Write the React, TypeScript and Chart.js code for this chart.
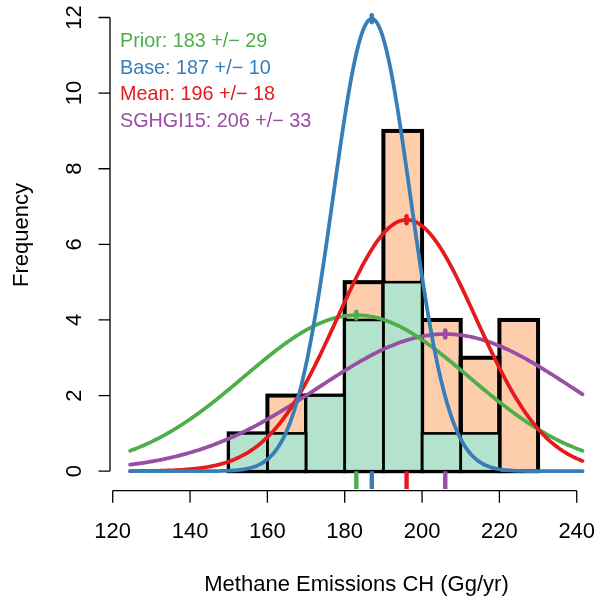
import React, { useEffect, useRef } from "react";
import { Chart, registerables } from "chart.js";

Chart.register(...registerables);

// ---- data ----
const binStarts = [150, 160, 170, 180, 190, 200, 210, 220];
const binWidth = 10;
const allCounts = [1, 2, 2, 5, 9, 4, 3, 4];
const subsetCounts = [1, 1, 2, 4, 5, 1, 1, 0];
const seriesNames = ["Prior", "Base", "Mean", "SGHGI15"];
const seriesMeans = [183, 187, 196, 206];
const seriesSds = [29, 10, 18, 33];
const seriesColors = ["#4DAF4A", "#377EB8", "#E41A1C", "#984EA3"];
const seriesDrawOrder = [4, 2, 3, 5]; // higher = drawn earlier
const nObs = 30;
const curveFrom = 124.5;
const curveTo = 241.5;
const xTicks = [120, 140, 160, 180, 200, 220, 240];
const yTicks = [0, 2, 4, 6, 8, 10, 12];
const xTitle = "Methane Emissions CH (Gg/yr)";
const yTitle = "Frequency";

const FONT = "'Liberation Sans', Arial, Helvetica, sans-serif";

function scaledDensity(x: number, mu: number, sd: number) {
  const z = (x - mu) / sd;
  return (nObs * binWidth * Math.exp(-0.5 * z * z)) / (sd * Math.sqrt(2 * Math.PI));
}

function curvePoints(mu: number, sd: number) {
  const pts: { x: number; y: number }[] = [];
  const n = 240;
  for (let i = 0; i <= n; i++) {
    const x = curveFrom + ((curveTo - curveFrom) * i) / n;
    pts.push({ x, y: scaledDensity(x, mu, sd) });
  }
  return pts;
}

const outlinePlugin = {
  id: "histOutline",
  afterDatasetDraw(chart: any, args: any) {
    const meta = args.meta;
    const ds = chart.data.datasets[args.index];
    if (meta.type !== "bar" || !ds.outlineWidth) return;
    const ctx = chart.ctx;
    ctx.save();
    ctx.strokeStyle = "#000";
    ctx.lineWidth = ds.outlineWidth;
    ctx.lineJoin = "miter";
    meta.data.forEach((el: any) => {
      const p = el.getProps(["x", "y", "base", "width"], true);
      if (Math.abs(p.base - p.y) < 0.5) return;
      ctx.strokeRect(p.x - p.width / 2, p.y, p.width, p.base - p.y);
    });
    ctx.restore();
  },
};

const axesPlugin = {
  id: "rAxes",
  afterDraw(chart: any) {
    const ctx = chart.ctx;
    const xs = chart.scales.x;
    const ys = chart.scales.y;
    const area = chart.chartArea;
    ctx.save();
    ctx.strokeStyle = "#000";
    ctx.fillStyle = "#000";
    ctx.lineWidth = 1.3;
    ctx.lineCap = "butt";

    // y axis
    const yx = area.left;
    ctx.beginPath();
    ctx.moveTo(yx, ys.getPixelForValue(yTicks[0]));
    ctx.lineTo(yx, ys.getPixelForValue(yTicks[yTicks.length - 1]));
    yTicks.forEach((v) => {
      const py = ys.getPixelForValue(v);
      ctx.moveTo(yx, py);
      ctx.lineTo(yx - 11.5, py);
    });
    ctx.stroke();
    ctx.font = `22px ${FONT}`;
    ctx.textAlign = "center";
    ctx.textBaseline = "alphabetic";
    yTicks.forEach((v) => {
      const py = ys.getPixelForValue(v);
      ctx.save();
      ctx.translate(81, py);
      ctx.rotate(-Math.PI / 2);
      ctx.fillText(String(v), 0, 0);
      ctx.restore();
    });

    // x axis
    const xy = area.bottom;
    ctx.beginPath();
    ctx.moveTo(xs.getPixelForValue(xTicks[0]), xy);
    ctx.lineTo(xs.getPixelForValue(xTicks[xTicks.length - 1]), xy);
    xTicks.forEach((v) => {
      const px = xs.getPixelForValue(v);
      ctx.moveTo(px, xy);
      ctx.lineTo(px, xy + 12);
    });
    ctx.stroke();
    xTicks.forEach((v) => {
      ctx.fillText(String(v), xs.getPixelForValue(v), 537.5);
    });

    // titles
    ctx.fillText(xTitle, 356.5, 591);
    ctx.save();
    ctx.translate(27.5, 235);
    ctx.rotate(-Math.PI / 2);
    ctx.fillText(yTitle, 0, 0);
    ctx.restore();

    // legend text
    ctx.font = `19.8px ${FONT}`;
    ctx.textAlign = "left";
    seriesNames.forEach((name, i) => {
      ctx.fillStyle = seriesColors[i];
      ctx.fillText(`${name}: ${seriesMeans[i]} +/\u2212 ${seriesSds[i]}`, 120, 47 + i * 26.7);
    });
    ctx.restore();
  },
};

export default function App() {
  const ref = useRef<HTMLCanvasElement | null>(null);

  useEffect(() => {
    if (!ref.current) return;
    const datasets: any[] = [];
    datasets.push({
      type: "bar",
      data: binStarts.map((s, i) => ({ x: s + binWidth / 2, y: allCounts[i] })),
      backgroundColor: "#FDCDAC",
      borderWidth: 0,
      grouped: false,
      barPercentage: 1,
      categoryPercentage: 1,
      order: 20,
      outlineWidth: 4,
    });
    datasets.push({
      type: "bar",
      data: binStarts.map((s, i) => ({ x: s + binWidth / 2, y: subsetCounts[i] })),
      backgroundColor: "#B3E2CD",
      borderWidth: 0,
      grouped: false,
      barPercentage: 1,
      categoryPercentage: 1,
      order: 19,
      outlineWidth: 2.6,
    });
    seriesMeans.forEach((mu, i) => {
      const sd = seriesSds[i];
      const peak = scaledDensity(mu, mu, sd);
      datasets.push({
        type: "line",
        data: curvePoints(mu, sd),
        borderColor: seriesColors[i],
        borderWidth: 3.75,
        pointRadius: 0,
        tension: 0,
        fill: false,
        borderCapStyle: "round",
        borderJoinStyle: "round",
        clip: false,
        order: seriesDrawOrder[i],
      });
      datasets.push({
        type: "line",
        data: [
          { x: mu, y: peak - 0.09 },
          { x: mu, y: peak + 0.09 },
        ],
        borderColor: seriesColors[i],
        borderWidth: 4.6,
        pointRadius: 0,
        fill: false,
        borderCapStyle: "round",
        clip: false,
        order: seriesDrawOrder[i],
      });
      datasets.push({
        type: "line",
        data: [
          { x: mu, y: 0 },
          { x: mu, y: -0.47 },
        ],
        borderColor: seriesColors[i],
        borderWidth: 4.4,
        pointRadius: 0,
        fill: false,
        borderCapStyle: "butt",
        clip: false,
        order: 1,
      });
    });

    const chart = new Chart(ref.current, {
      type: "bar",
      data: { datasets },
      options: {
        responsive: false,
        animation: false,
        layout: { padding: { left: 110, right: 0, top: 0, bottom: 596 - 490.7 } },
        plugins: { legend: { display: false }, tooltip: { enabled: false } },
        scales: {
          x: {
            type: "linear",
            min: 119.3,
            max: 245.24,
            offset: false,
            grid: { offset: false },
            display: false,
            afterBuildTicks: (s: any) => {
              s.ticks = xTicks.map((v) => ({ value: v }));
            },
          },
          y: {
            type: "linear",
            min: -0.516,
            max: 12.463,
            display: false,
            afterBuildTicks: (s: any) => {
              s.ticks = yTicks.map((v) => ({ value: v }));
            },
          },
        },
      } as any,
      plugins: [outlinePlugin, axesPlugin],
    });
    return () => chart.destroy();
  }, []);

  return (
    <div style={{ position: "fixed", left: 0, top: 0, width: 597, height: 596, background: "#fff" }}>
      <canvas ref={ref} width={597} height={596} style={{ display: "block" }} />
    </div>
  );
}
